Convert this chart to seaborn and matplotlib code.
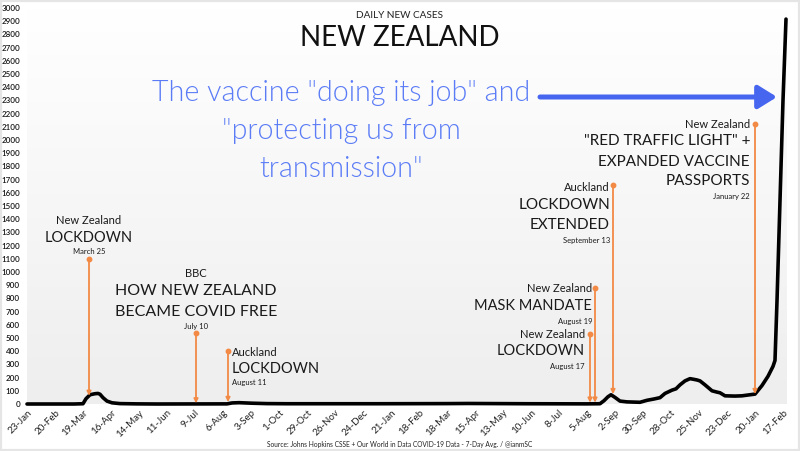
import numpy as np
import pandas as pd
import seaborn as sns
import matplotlib.pyplot as plt
from matplotlib.colors import LinearSegmentedColormap
from matplotlib.patches import Rectangle

# 7-day average of new cases
dates = [
    "2020-01-23", "2020-03-10", "2020-03-19", "2020-03-22", "2020-03-26", "2020-03-31",
    "2020-04-03", "2020-04-05", "2020-04-08", "2020-04-12", "2020-04-17", "2020-04-25",
    "2020-05-12", "2020-06-01", "2020-08-10", "2020-08-15", "2020-08-22", "2020-09-04",
    "2020-09-19", "2020-10-09", "2020-11-18", "2021-01-07", "2021-03-18", "2021-04-08",
    "2021-06-06", "2021-08-05", "2021-08-18", "2021-08-22", "2021-08-26", "2021-08-29",
    "2021-09-02", "2021-09-07", "2021-09-14", "2021-09-27", "2021-10-04", "2021-10-11",
    "2021-10-17", "2021-10-22", "2021-10-29", "2021-11-02", "2021-11-06", "2021-11-11",
    "2021-11-16", "2021-11-19", "2021-11-23", "2021-11-26", "2021-12-01", "2021-12-08",
    "2021-12-13", "2021-12-16", "2021-12-21", "2021-12-31", "2022-01-07", "2022-01-13",
    "2022-01-20", "2022-01-27", "2022-02-02", "2022-02-07", "2022-02-09", "2022-02-11",
    "2022-02-14", "2022-02-17", "2022-02-20",
]
cases = [
    0, 0, 2, 40, 70, 78,
    80, 74, 48, 22, 9, 3,
    1, 0, 1, 8, 10, 6,
    3, 2, 2, 2, 3, 4,
    2, 1, 2, 25, 55, 70,
    50, 22, 16, 13, 28, 38,
    48, 80, 105, 115, 145, 175,
    192, 188, 182, 175, 145, 100,
    90, 85, 62, 60, 62, 68,
    75, 140, 210, 285, 330, 780,
    1540, 2300, 2916,
]

# event markers
ev_dates = ["2020-03-25", "2020-07-10", "2020-08-11", "2021-08-08",
            "2021-08-13", "2021-08-31", "2022-01-20"]
ev_top = [1100, 540, 400, 530, 880, 1660, 2120]
ev_bottom = [62, 5, 15, 10, 10, 75, 75]
ev_who = ["New Zealand", "BBC", "Auckland", "New Zealand",
          "New Zealand", "Auckland", "New Zealand"]
ev_what = [["LOCKDOWN"],
           ["HOW NEW ZEALAND", "BECAME COVID FREE"],
           ["LOCKDOWN"],
           ["LOCKDOWN"],
           ["MASK MANDATE"],
           ["LOCKDOWN", "EXTENDED"],
           ['"RED TRAFFIC LIGHT" +', "EXPANDED VACCINE", "PASSPORTS"]]
ev_when = ["March 25", "July 10", "August 11", "August 17",
           "August 19", "September 13", "January 22"]

df = pd.DataFrame({"date": pd.to_datetime(dates), "cases": cases})
tick_dates = pd.date_range("2020-01-23", "2022-02-17", freq="28D")

sns.set_theme(style="white")
plt.rcParams["font.family"] = ["Lato", "DejaVu Sans"]

ORANGE = "#f28a45"
fig = plt.figure(figsize=(8, 4.51), dpi=100)
ax = fig.add_axes([27 / 800, 47 / 451, 760 / 800, 396 / 451])

# soft grey gradient behind the plot
grad = LinearSegmentedColormap.from_list("g", ["#eeeeee", "#ffffff"])
ax.imshow(np.linspace(0, 1, 256).reshape(-1, 1), cmap=grad, origin="lower",
          extent=(0, 1, 0, 1), transform=ax.transAxes, aspect="auto", zorder=0)

sns.lineplot(data=df, x="date", y="cases", ax=ax, color="black", lw=2.6,
             zorder=3, clip_on=False)
ax.lines[-1].set_solid_joinstyle("round")
ax.lines[-1].set_solid_capstyle("round")

ax.set_xlim(pd.Timestamp("2020-01-23"), pd.Timestamp("2022-02-21"))
ax.set_ylim(0, 3000)
ax.set_aspect("auto")
ax.set_yticks(range(0, 3001, 100))
ax.set_xticks(tick_dates)
ax.set_xticklabels([f"{d.day}-{d.strftime('%b')}" for d in tick_dates],
                   rotation=45, ha="right", rotation_mode="anchor")
ax.tick_params(axis="y", labelsize=5.8, pad=5, length=0, colors="#1a1a1a")
ax.tick_params(axis="x", labelsize=7, pad=3, length=0, colors="#222222")
for lbl in ax.get_yticklabels():
    lbl.set_fontweight("semibold")
ax.set_xlabel("")
ax.set_ylabel("")
sns.despine(ax=ax, left=True, bottom=True)

# event lines + labels
# per annotation: ha, dx, (who, headline, date) sizes, dy px of lines, dy px of date
layouts = [
    ("center", 0, [8, 10.5, 5.5], [38, 21], 7),
    ("center", 0, [8, 11.5, 5.5], [59, 42, 21], 6),
    ("left", 4, [8, 10.5, 5.5], [-1, -18], -31),
    ("right", -5, [8, 10.5, 5.5], [0, -17], -32),
    ("right", -3, [8, 10.5, 5.5], [-1, -18], -34),
    ("right", -3, [8, 11, 5.5], [-3, -20, -40], -56),
    ("right", -5, [8, 11, 5.5], [0, -17, -38, -57], -72),
]
for i, d in enumerate(ev_dates):
    x = pd.Timestamp(d)
    ax.annotate("", xy=(x, ev_bottom[i]), xytext=(x, ev_top[i]),
                arrowprops=dict(arrowstyle="-|>", color=ORANGE, lw=1.3,
                                mutation_scale=6, shrinkA=0, shrinkB=0),
                zorder=4)
    ax.plot([x], [ev_top[i]], "o", color=ORANGE, ms=3.2, zorder=4)
    ha, dx, sizes, dys, dy_when = layouts[i]
    lines = [ev_who[i]] + ev_what[i]
    for j, txt in enumerate(lines):
        sz = sizes[0] if j == 0 else sizes[1]
        ax.annotate(txt, xy=(x, ev_top[i]), xytext=(dx, dys[j]),
                    textcoords="offset pixels", ha=ha, va="center",
                    fontsize=sz, color="#1a1a1a", zorder=5)
    ax.annotate(ev_when[i], xy=(x, ev_top[i]), xytext=(dx, dy_when),
                textcoords="offset pixels", ha=ha, va="center",
                fontsize=sizes[2], color="#1a1a1a", zorder=5)

# titles
fig.text(0.5, 1 - 15 / 451, "DAILY NEW CASES", ha="center", va="center",
         fontsize=7.2, color="#222222")
fig.text(0.5, 1 - 38 / 451, "NEW ZEALAND", ha="center", va="center",
         fontsize=20, color="#111111")

# blue commentary + arrow
BLUE = "#5b7cf6"
for k, line in enumerate(['The vaccine "doing its job" and',
                          '"protecting us from',
                          'transmission"']):
    fig.text(341 / 800, 1 - (93 + 38 * k) / 451, line, ha="center",
             va="center", fontsize=20.6, fontweight=300, color=BLUE)
fig.patches.append(Rectangle((0, 0), 1, 1, transform=fig.transFigure,
                             fill=False, edgecolor="#e5e5e5", lw=3))
ax.annotate("", xy=(777 / 800, 1 - 97 / 451), xytext=(540 / 800, 1 - 97 / 451),
            xycoords="figure fraction", textcoords="figure fraction",
            arrowprops=dict(arrowstyle="-|>,head_length=0.45,head_width=0.28",
                            color="#4766f0", lw=3.6, mutation_scale=25,
                            shrinkA=0, shrinkB=0))

fig.text(0.5, 1 - 444 / 451,
         "Source: Johns Hopkins CSSE + Our World in Data COVID-19 Data - 7-Day Avg. / @ianmSC",
         ha="center", va="center", fontsize=4.8, color="#222222")

fig.savefig("out.png", dpi=100)
